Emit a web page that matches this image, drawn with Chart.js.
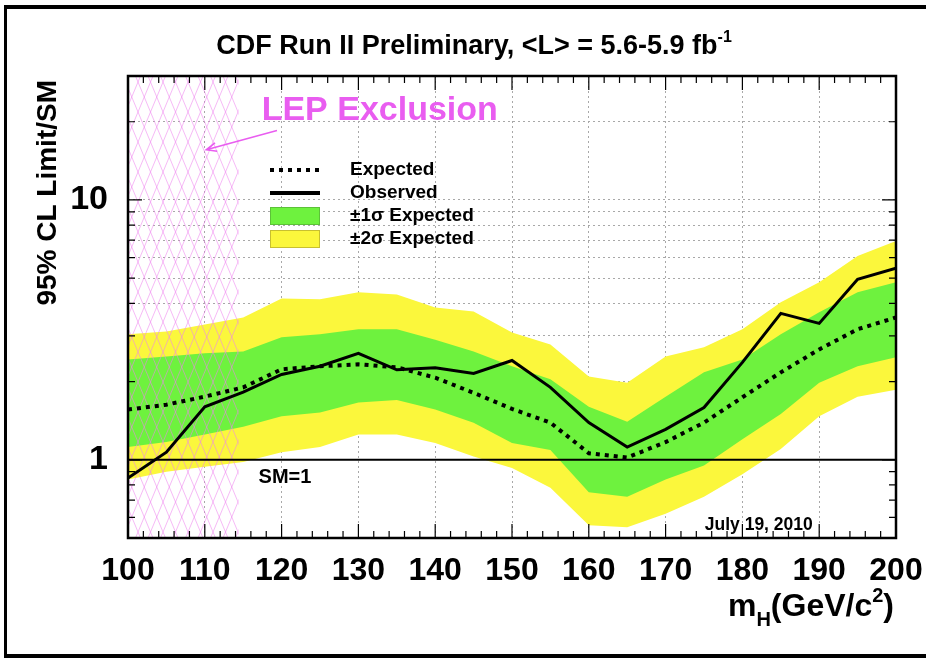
<!DOCTYPE html>
<html>
<head>
<meta charset="utf-8">
<title>CDF Run II Higgs limit</title>
<script src="https://cdn.jsdelivr.net/npm/chart.js@4.4.1/dist/chart.umd.min.js"></script>
<style>
  html, body { margin: 0; padding: 0; background: #fff; }
  #wrap { position: relative; width: 926px; height: 659px; overflow: hidden; }
  #wrap canvas { position: absolute; left: 0; top: 0; }
  #frame {
    position: absolute; left: 4px; top: 5px; width: 960px; height: 653px;
    border-top: 4px solid #000; border-bottom: 4px solid #000; border-left: 3px solid #000;
    box-sizing: border-box; pointer-events: none;
  }
</style>
</head>
<body>
<div id="wrap">
  <canvas id="chart" width="926" height="659"></canvas>
  <div id="frame"></div>
</div>
<script>
// Higgs boson mass points (GeV/c^2)
const MASS = [100, 105, 110, 115, 120, 125, 130, 135, 140, 145, 150, 155, 160, 165, 170, 175, 180, 185, 190, 195, 200];
// 95% CL limit / SM
const OBSERVED = [0.85, 1.07, 1.60, 1.82, 2.13, 2.29, 2.57, 2.22, 2.26, 2.15, 2.41, 1.90, 1.39, 1.12, 1.31, 1.59, 2.37, 3.66, 3.35, 4.95, 5.46];
const EXPECTED = [1.56, 1.63, 1.75, 1.90, 2.23, 2.29, 2.33, 2.27, 2.07, 1.81, 1.57, 1.39, 1.06, 1.02, 1.17, 1.39, 1.74, 2.17, 2.66, 3.18, 3.53];
const PLUS_1S  = [2.43, 2.50, 2.57, 2.61, 2.96, 3.04, 3.18, 3.18, 2.90, 2.61, 2.29, 2.04, 1.60, 1.40, 1.75, 2.17, 2.43, 3.04, 3.70, 4.41, 4.82];
const MINUS_1S = [1.12, 1.17, 1.25, 1.34, 1.47, 1.52, 1.66, 1.70, 1.56, 1.39, 1.16, 1.09, 0.75, 0.72, 0.84, 0.95, 1.20, 1.50, 1.98, 2.29, 2.48];
const PLUS_2S  = [3.04, 3.12, 3.32, 3.53, 4.18, 4.15, 4.41, 4.33, 3.86, 3.72, 3.09, 2.78, 2.09, 1.98, 2.50, 2.71, 3.18, 4.04, 4.82, 6.08, 6.95];
const MINUS_2S = [0.84, 0.90, 0.94, 0.98, 1.07, 1.12, 1.25, 1.25, 1.16, 1.03, 0.93, 0.78, 0.56, 0.55, 0.62, 0.72, 0.88, 1.10, 1.47, 1.75, 1.86];

// axis ticks
const X_TICKS = [100, 110, 120, 130, 140, 150, 160, 170, 180, 190, 200];
const X_MINOR_STEP = 2;
const Y_TICKS = [0.5, 0.6, 0.7, 0.8, 0.9, 1, 2, 3, 4, 5, 6, 7, 8, 9, 10, 20, 30];
const Y_LABELS = { 1: '1', 10: '10' };
const Y_MAJOR = [1, 10];

// reference levels and annotation text
const LEP_LIMIT = 114.4;
const SM_LEVEL = 1;
const LEGEND_LABELS = ['Expected', 'Observed', '\u00b11\u03c3 Expected', '\u00b12\u03c3 Expected'];
const TITLE_MAIN = 'CDF Run II Preliminary, <L> = 5.6-5.9 fb';
const TITLE_SUP = '-1';
const Y_TITLE = '95% CL Limit/SM';
const LEP_TEXT = 'LEP Exclusion';
const SM_TEXT = 'SM=1';
const DATE_TEXT = 'July 19, 2010';

const FONT = "'Liberation Sans', Arial, Helvetica, sans-serif";
const YELLOW = '#fbf73c';
const GREEN = '#6ef23e';
const MAGENTA = '#e95df0';
const GRID = '#a8a8a8';

const pts = arr => MASS.map((m, i) => ({ x: m, y: arr[i] }));

function bold(size) { return 'bold ' + size + 'px ' + FONT; }

function drawRich(ctx, parts, x, y, align) {
  let w = 0;
  parts.forEach(p => { ctx.font = bold(p.size); w += ctx.measureText(p.text).width; });
  let cx = align === 'right' ? x - w : align === 'center' ? x - w / 2 : x;
  ctx.textAlign = 'left';
  ctx.textBaseline = 'alphabetic';
  parts.forEach(p => {
    ctx.font = bold(p.size);
    ctx.fillText(p.text, cx, y + (p.dy || 0));
    cx += ctx.measureText(p.text).width;
  });
}

function drawHatch(chart) {
  const { ctx, chartArea: a, scales: { x } } = chart;
  const x0 = a.left, x1 = x.getPixelForValue(LEP_LIMIT);
  const h = a.bottom - a.top, sp = 12.5, run = h / 2.4;
  ctx.save();
  ctx.beginPath();
  ctx.rect(x0, a.top, x1 - x0, h);
  ctx.clip();
  ctx.beginPath();
  for (let s = x0 - run - sp; s < x1 + run + sp; s += sp) {
    ctx.moveTo(s, a.top); ctx.lineTo(s + run, a.bottom);
    ctx.moveTo(s + run, a.top); ctx.lineTo(s, a.bottom);
  }
  ctx.strokeStyle = 'rgba(238,130,238,0.55)';
  ctx.lineWidth = 1;
  ctx.stroke();
  ctx.restore();
}

function drawSMLine(chart) {
  const { ctx, chartArea: a, scales: { y } } = chart;
  const py = y.getPixelForValue(SM_LEVEL);
  ctx.save();
  ctx.beginPath();
  ctx.moveTo(a.left, py); ctx.lineTo(a.right, py);
  ctx.strokeStyle = '#000'; ctx.lineWidth = 2;
  ctx.stroke();
  ctx.restore();
}

const decorations = {
  id: 'decorations',
  afterDatasetDraw(chart, args) {
    if (args.index === 2) { drawHatch(chart); drawSMLine(chart); }
  },
  afterDraw(chart) {
    const { ctx, chartArea: a, scales: { x, y } } = chart;
    ctx.save();

    // frame
    ctx.strokeStyle = '#000';
    ctx.lineWidth = 2.5;
    ctx.strokeRect(a.left, a.top, a.right - a.left, a.bottom - a.top);

    // inward tick marks
    ctx.lineWidth = 1.2;
    ctx.beginPath();
    for (let m = x.min; m <= x.max; m += X_MINOR_STEP) {
      const px = x.getPixelForValue(m);
      const len = X_TICKS.includes(m) ? 14 : 7;
      ctx.moveTo(px, a.bottom); ctx.lineTo(px, a.bottom - len);
      ctx.moveTo(px, a.top); ctx.lineTo(px, a.top + len);
    }
    Y_TICKS.forEach(v => {
      const py = y.getPixelForValue(v);
      const len = Y_MAJOR.includes(v) ? 14 : 7;
      ctx.moveTo(a.left, py); ctx.lineTo(a.left + len, py);
      ctx.moveTo(a.right, py); ctx.lineTo(a.right - len, py);
    });
    ctx.stroke();

    // title
    ctx.fillStyle = '#000';
    drawRich(ctx, [{ text: TITLE_MAIN, size: 27 }, { text: TITLE_SUP, size: 16, dy: -12 }], 474, 54, 'center');

    // y axis title
    ctx.save();
    ctx.translate(56, a.top + 4);
    ctx.rotate(-Math.PI / 2);
    ctx.font = bold(28);
    ctx.textAlign = 'right';
    ctx.textBaseline = 'alphabetic';
    ctx.fillText(Y_TITLE, 0, 0);
    ctx.restore();

    // x axis title
    drawRich(ctx, [
      { text: 'm', size: 32 },
      { text: 'H', size: 20, dy: 10 },
      { text: '(GeV/c', size: 32 },
      { text: '2', size: 20, dy: -14 },
      { text: ')', size: 32 }
    ], a.right - 2, 616, 'right');

    // LEP exclusion label and arrow
    ctx.fillStyle = MAGENTA;
    ctx.font = bold(34);
    ctx.textAlign = 'left';
    ctx.textBaseline = 'middle';
    ctx.fillText(LEP_TEXT, x.getPixelForValue(117.4), y.getPixelForValue(22.1));
    const ax0 = x.getPixelForValue(119.4), ay0 = y.getPixelForValue(18.5);
    const ax1 = x.getPixelForValue(110.2), ay1 = y.getPixelForValue(15.6);
    ctx.strokeStyle = MAGENTA;
    ctx.lineWidth = 1.6;
    ctx.beginPath();
    ctx.moveTo(ax0, ay0); ctx.lineTo(ax1, ay1);
    const ang = Math.atan2(ay1 - ay0, ax1 - ax0);
    ctx.moveTo(ax1 - 11 * Math.cos(ang - 0.4), ay1 - 11 * Math.sin(ang - 0.4));
    ctx.lineTo(ax1, ay1);
    ctx.lineTo(ax1 - 11 * Math.cos(ang + 0.4), ay1 - 11 * Math.sin(ang + 0.4));
    ctx.stroke();

    // legend
    const lx0 = 270, lx1 = 320, tx = 350;
    const rows = [170, 193, 216, 239];
    ctx.strokeStyle = '#000';
    ctx.beginPath();
    ctx.setLineDash([4, 5]);
    ctx.lineWidth = 4;
    ctx.moveTo(lx0, rows[0]); ctx.lineTo(lx1, rows[0]);
    ctx.stroke();
    ctx.setLineDash([]);
    ctx.beginPath();
    ctx.lineWidth = 4;
    ctx.moveTo(lx0, rows[1]); ctx.lineTo(lx1, rows[1]);
    ctx.stroke();
    ctx.lineWidth = 1;
    ctx.fillStyle = GREEN; ctx.fillRect(lx0, rows[2] - 9, lx1 - lx0, 18);
    ctx.strokeStyle = '#5cc238'; ctx.strokeRect(lx0 + 0.5, rows[2] - 8.5, lx1 - lx0 - 1, 17);
    ctx.fillStyle = YELLOW; ctx.fillRect(lx0, rows[3] - 9, lx1 - lx0, 18);
    ctx.strokeStyle = '#c8c030'; ctx.strokeRect(lx0 + 0.5, rows[3] - 8.5, lx1 - lx0 - 1, 17);
    ctx.fillStyle = '#000';
    ctx.font = bold(19);
    ctx.textAlign = 'left';
    ctx.textBaseline = 'middle';
    LEGEND_LABELS.forEach((t, i) => ctx.fillText(t, tx, rows[i]));

    // SM=1 and date
    ctx.font = bold(20);
    ctx.fillText(SM_TEXT, x.getPixelForValue(117), y.getPixelForValue(SM_LEVEL) + 18);
    ctx.font = bold(17.5);
    ctx.fillText(DATE_TEXT, x.getPixelForValue(175.1), y.getPixelForValue(0.56));

    ctx.restore();
  }
};

const lineDs = (label, data, extra) => Object.assign({
  label, data: pts(data), pointRadius: 0, tension: 0, fill: false
}, extra);

new Chart(document.getElementById('chart'), {
  type: 'line',
  data: {
    datasets: [
      lineDs('Observed', OBSERVED, { borderColor: '#000', borderWidth: 3, order: 0 }),
      lineDs('Expected', EXPECTED, { borderColor: '#000', borderWidth: 4, borderDash: [4, 5], order: 1 }),
      lineDs('+1 sigma', PLUS_1S, { borderColor: 'rgba(0,0,0,0)', borderWidth: 0, backgroundColor: GREEN, fill: 3, order: 2 }),
      lineDs('-1 sigma', MINUS_1S, { borderColor: 'rgba(0,0,0,0)', borderWidth: 0, order: 3 }),
      lineDs('+2 sigma', PLUS_2S, { borderColor: 'rgba(0,0,0,0)', borderWidth: 0, backgroundColor: YELLOW, fill: 5, order: 4 }),
      lineDs('-2 sigma', MINUS_2S, { borderColor: 'rgba(0,0,0,0)', borderWidth: 0, order: 5 })
    ]
  },
  options: {
    responsive: false,
    animation: false,
    events: [],
    layout: { padding: { top: 76, right: 30, left: 0, bottom: 0 } },
    plugins: { legend: { display: false }, tooltip: { enabled: false }, title: { display: false } },
    scales: {
      x: {
        type: 'linear', min: 100, max: 200,
        afterBuildTicks: s => { s.ticks = X_TICKS.map(v => ({ value: v })); },
        ticks: { color: '#000', font: { family: FONT, size: 32, weight: 'bold' }, padding: 14, maxRotation: 0, autoSkip: false, callback: v => String(v) },
        grid: {
          drawTicks: false, lineWidth: 1,
          color: c => (c.tick && c.tick.value > 100 && c.tick.value < 200) ? GRID : 'rgba(0,0,0,0)'
        },
        border: { display: false, dash: [2, 3] },
        afterFit: s => { s.height = 121; s.paddingLeft = 0; s.paddingRight = 0; }
      },
      y: {
        type: 'logarithmic', min: 0.5, max: 30,
        afterBuildTicks: s => { s.ticks = Y_TICKS.map(v => ({ value: v })); },
        ticks: { color: '#000', font: { family: FONT, size: 34, weight: 'bold' }, padding: 20, autoSkip: false, callback: v => Y_LABELS[v] || '' },
        grid: {
          drawTicks: false, lineWidth: 1,
          color: c => (c.tick && c.tick.value >= 2 && c.tick.value < 30) ? GRID : 'rgba(0,0,0,0)'
        },
        border: { display: false, dash: [2, 3] },
        afterFit: s => { s.width = 128; s.paddingTop = 0; s.paddingBottom = 0; }
      }
    }
  },
  plugins: [decorations]
});
</script>
</body>
</html>
